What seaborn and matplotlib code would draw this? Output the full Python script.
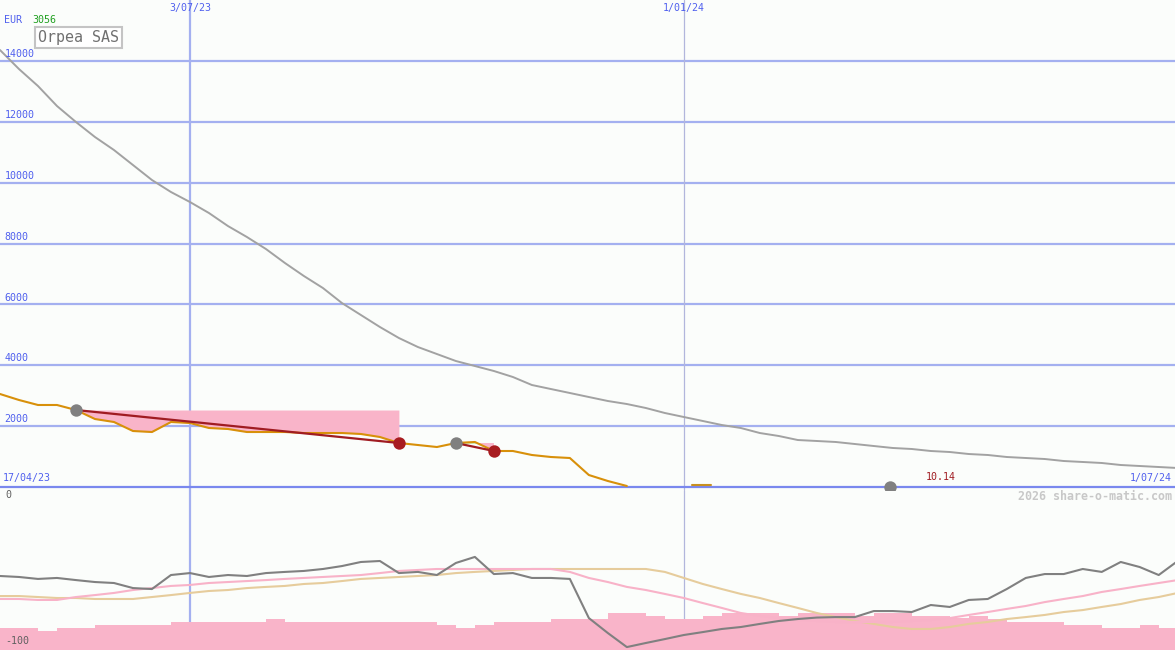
import pandas as pd
import seaborn as sns
import matplotlib.pyplot as plt
import matplotlib.transforms as mtransforms

# weekly points, first one at the left edge of the chart
weeks = pd.date_range("2023-04-24", periods=63, freq="7D")

# upper panel: long falling grey line
grey_line = [14360, 13735, 13177, 12520, 11994, 11501, 11074, 10581, 10088, 9694,
             9365, 9004, 8576, 8215, 7821, 7361, 6933, 6539, 6046, 5652,
             5258, 4896, 4600, 4370, 4140, 3976, 3812, 3615, 3352, 3220,
             3089, 2957, 2826, 2727, 2596, 2432, 2300, 2169, 2037, 1939,
             1774, 1676, 1544, 1512, 1479, 1413, 1347, 1282, 1249, 1183,
             1150, 1084, 1052, 986, 953, 920, 854, 822, 789, 723,
             690, 657, 624]

# upper panel: price (EUR), ends after 34 weeks
price = [3056, 2859, 2695, 2695, 2530, 2234, 2136, 1840, 1807, 2136,
         2103, 1939, 1906, 1807, 1807, 1807, 1774, 1774, 1774, 1742,
         1643, 1446, 1380, 1314, 1446, 1479, 1183, 1183, 1052, 986,
         953, 394, 197, 33]
price_tail_dates = pd.to_datetime(["2024-01-04", "2024-01-11"])
price_tail = [60, 60]

# trend segments (start week, end week)
trends = [(4, 21), (24, 26)]

last_date = pd.Timestamp("2024-03-17")
last_value = 0
last_label = "10.14"

# lower panel: oscillator, its two averages and the histogram
osc = [-54.6, -55.2, -56.4, -55.8, -57.1, -58.3, -58.9, -62.0, -62.6, -54.0,
       -52.8, -55.2, -54.0, -54.6, -52.8, -52.1, -51.5, -50.3, -48.5, -46.0,
       -45.4, -52.8, -52.1, -54.0, -46.6, -42.9, -53.4, -52.8, -55.8, -55.8,
       -56.4, -80.4, -89.6, -98.2, -95.7, -93.3, -90.8, -89.0, -87.1, -85.9,
       -84.0, -82.2, -81.0, -80.1, -79.8, -79.8, -76.1, -76.1, -76.7, -72.4,
       -73.6, -69.3, -68.7, -62.6, -55.8, -53.4, -53.4, -50.3, -52.1, -46.0,
       -49.1, -54.0, -45.4]
osc_fast = [-68.7, -68.7, -69.3, -69.3, -67.5, -66.3, -65.0, -63.2, -62.0, -60.7,
            -60.1, -58.9, -58.3, -57.7, -57.1, -56.4, -55.8, -55.2, -54.6, -54.0,
            -52.8, -51.5, -50.9, -50.3, -50.3, -50.3, -50.3, -50.3, -50.3, -50.3,
            -52.1, -55.8, -58.3, -61.3, -63.2, -65.6, -68.1, -71.2, -74.2, -77.3,
            -79.1, -80.4, -81.6, -82.2, -82.8, -82.8, -82.8, -82.8, -82.2, -81.6,
            -80.4, -78.5, -76.7, -74.8, -73.0, -70.6, -68.7, -66.9, -64.4, -62.6,
            -60.7, -58.9, -57.1]
osc_slow = [-66.9, -66.9, -67.5, -68.1, -68.1, -68.7, -68.7, -68.7, -67.5, -66.3,
            -65.0, -63.8, -63.2, -62.0, -61.3, -60.7, -59.5, -58.9, -57.7, -56.4,
            -55.8, -55.2, -54.6, -54.0, -52.8, -52.1, -51.5, -50.9, -50.3, -50.3,
            -50.3, -50.3, -50.3, -50.3, -50.3, -52.1, -55.8, -59.5, -62.6, -65.6,
            -68.1, -71.2, -74.2, -77.3, -79.8, -82.2, -84.0, -85.9, -87.1, -87.1,
            -85.9, -84.0, -82.8, -81.0, -79.8, -78.5, -76.7, -75.5, -73.6, -71.8,
            -69.3, -67.5, -65.0]
hist = [-86.5, -86.5, -88.3, -86.5, -86.5, -84.7, -84.7, -84.7, -84.7, -82.8,
        -82.8, -82.8, -82.8, -82.8, -81.0, -82.8, -82.8, -82.8, -82.8, -82.8,
        -82.8, -82.8, -82.8, -84.7, -86.5, -84.7, -82.8, -82.8, -82.8, -81.0,
        -81.0, -81.0, -77.3, -77.3, -79.1, -81.0, -81.0, -79.1, -77.3, -77.3,
        -77.3, -79.1, -77.3, -77.3, -77.3, -79.1, -77.3, -77.3, -79.1, -79.1,
        -80.4, -79.1, -81.0, -82.8, -82.8, -82.8, -84.7, -84.7, -86.5, -86.5,
        -84.7, -86.5]

y_ticks = [2000, 4000, 6000, 8000, 10000, 12000, 14000]
x_marks = [("3/07/23", "2023-07-03"), ("1/01/24", "2024-01-01")]
first_label, last_date_label = "17/04/23", "1/07/24"

# colours
bg = "#fbfdfb"
grid_blue = "#a4b0f0"
zero_blue = "#7a88ee"
text_blue = "#5060ee"
pink = "#f9b4c9"

sns.set_style("white")
plt.rcParams["font.family"] = ["DejaVu Sans Mono"]

fig = plt.figure(figsize=(11.75, 6.5), dpi=100, facecolor=bg)
ax1 = fig.add_axes([0, 160 / 650, 1, 490 / 650], facecolor=bg)
ax2 = fig.add_axes([0, 0, 1, 160 / 650], facecolor=bg)

x_left, x_right = pd.Timestamp("2023-04-24"), pd.Timestamp("2024-06-30")
for ax in (ax1, ax2):
    ax.set_xlim(x_left, x_right)
    ax.set_axis_off()
ax1.set_ylim(-98.6, 16004)
ax2.set_ylim(-100, -1.84)

# grid
for v in y_ticks:
    ax1.axhline(v, color=grid_blue, lw=1.6, zorder=0)
ax1.axhline(0, color=zero_blue, lw=1.6, zorder=1)
for ax in (ax1, ax2):
    ax.axvline(pd.Timestamp(x_marks[0][1]), color=grid_blue, lw=1.6, zorder=0)
    ax.axvline(pd.Timestamp(x_marks[1][1]), color="#b2b6dc", lw=0.9, zorder=0)

# upper panel
sns.lineplot(x=weeks, y=grey_line, ax=ax1, color="#a2a2a2", lw=1.4, zorder=2)
pw = weeks[:len(price)]
ps = pd.Series(price, index=pw)
for a, b in trends:
    seg = ps.iloc[a:b + 1]
    level = seg.iloc[0]
    ax1.fill_between(seg.index, seg.values, level, where=seg.values <= level,
                     interpolate=True, color=pink, lw=0, zorder=2)
    ax1.fill_between(seg.index, seg.values, level, where=seg.values >= level,
                     interpolate=True, color="#98ee90", lw=0, zorder=2)
sns.lineplot(x=pw, y=price, ax=ax1, color="#d8900a", lw=1.5, zorder=3)
sns.lineplot(x=price_tail_dates, y=price_tail, ax=ax1, color="#c89020", lw=1.5, zorder=3)
for a, b in trends:
    ax1.plot([pw[a], pw[b]], [price[a], price[b]], color="#a01c22", lw=1.6, zorder=4)
    ax1.scatter([pw[a]], [price[a]], s=80, color="#808080", zorder=5, lw=0)
    ax1.scatter([pw[b]], [price[b]], s=80, color="#a81c20", zorder=5, lw=0)
ax1.scatter([last_date], [last_value], s=80, color="#808080", zorder=5, lw=0)
ax1.text(last_date + pd.Timedelta(days=13), 150, last_label, color="#a01c22",
         fontsize=7.2, va="bottom", ha="left")

# lower panel
ax2.bar(weeks[:len(hist)], [h + 100 for h in hist], bottom=-100, width=7,
        align="edge", color=pink, lw=0, zorder=1)
sns.lineplot(x=weeks, y=osc_slow, ax=ax2, color="#e6cc9c", lw=1.5, zorder=2)
sns.lineplot(x=weeks, y=osc_fast, ax=ax2, color="#f8b2c8", lw=1.5, zorder=3)
sns.lineplot(x=weeks, y=osc, ax=ax2, color="#808080", lw=1.5, zorder=4)

# y labels
fs = 7.2
tr = mtransforms.blended_transform_factory(ax1.transAxes, ax1.transData)
for v in y_ticks:
    ax1.text(0.004, v + 60, str(v), transform=tr, color=text_blue, fontsize=fs,
             va="bottom", ha="left")

# date labels above the vertical lines
top_tr = mtransforms.blended_transform_factory(ax1.transData, fig.transFigure)
for lab, d in x_marks:
    ax1.text(pd.Timestamp(d), 1 - 3 / 650, lab, transform=top_tr, color=text_blue,
             fontsize=fs, ha="center", va="top", clip_on=False)


def px(x, y):
    return x / 1175, 1 - y / 650


fig.text(*px(4, 15), "EUR", color=text_blue, fontsize=fs, va="top")
fig.text(*px(32, 15), "3056", color="#20a020", fontsize=fs, va="top")
fig.text(*px(38, 30), "Orpea SAS", color="#707070", fontsize=10.8, va="top",
         bbox=dict(boxstyle="square,pad=0.22", fc="white", ec="#c4c4c4", lw=1.5))
fig.text(*px(3, 473), first_label, color=text_blue, fontsize=fs, va="top")
fig.text(*px(1172, 473), last_date_label, color=text_blue, fontsize=fs, va="top", ha="right")
fig.text(*px(5, 490), "0", color="#606060", fontsize=fs, va="top")
fig.text(*px(5, 636), "-100", color="#606060", fontsize=fs, va="top")
fig.text(*px(1172, 490), "2026 share-o-matic.com", color="#c8c8c8", fontsize=8.4,
         fontweight="bold", va="top", ha="right")

fig.savefig("out.png", dpi=100, facecolor=bg)
